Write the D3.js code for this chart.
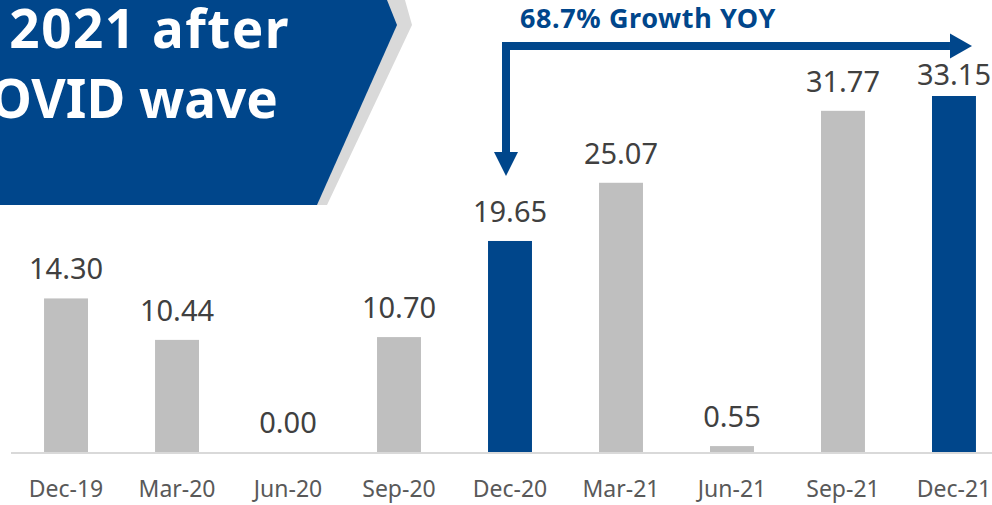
<!DOCTYPE html>
<html>
<head>
<meta charset="utf-8">
<script src="https://cdn.jsdelivr.net/npm/d3@7"></script>
<style>
  body { margin: 0; background: #fff; }
  svg { display: block; font-family: "Noto Sans", "Open Sans", sans-serif; }
</style>
</head>
<body>
<script>
// chart data
const categories = ['Dec-19', 'Mar-20', 'Jun-20', 'Sep-20', 'Dec-20', 'Mar-21', 'Jun-21', 'Sep-21', 'Dec-21'];
const values = [14.30, 10.44, 0.00, 10.70, 19.65, 25.07, 0.55, 31.77, 33.15];
const highlighted = ['Dec-20', 'Dec-21'];
const titleLines = ['2021 after', 'COVID wave'];
const growthLabel = '68.7% Growth YOY';

const width = 992, height = 505;
const baseY = 452;

const svg = d3.select('body').append('svg')
    .attr('width', width)
    .attr('height', height);

const x = d3.scaleBand()
    .domain(categories)
    .range([-23, 1043])
    .padding(0.604);

const y = d3.scaleLinear()
    .domain([0, d3.max(values)])
    .range([baseY, 96]);

const data = categories.map((c, i) => ({ cat: c, val: values[i] }));

// banner top-left
svg.append('polygon')
    .attr('points', '0,0 405,0 412,25 327,205 0,205')
    .attr('fill', '#d9d9d9');
svg.append('polygon')
    .attr('points', '0,0 387,0 397,25 317,205 0,205')
    .attr('fill', '#00468b');
svg.append('text')
    .attr('x', 290).attr('y', 48)
    .attr('text-anchor', 'end')
    .attr('fill', '#fff')
    .attr('font-weight', 700)
    .attr('font-size', 53)
    .attr('letter-spacing', 1.5)
    .text(titleLines[0]);
svg.append('text')
    .attr('x', 278).attr('y', 118)
    .attr('text-anchor', 'end')
    .attr('fill', '#fff')
    .attr('font-weight', 700)
    .attr('font-size', 53)
    .text(titleLines[1]);

// bars
svg.append('g').selectAll('rect')
    .data(data)
    .join('rect')
    .attr('x', d => x(d.cat))
    .attr('y', d => y(d.val))
    .attr('width', x.bandwidth())
    .attr('height', d => baseY - y(d.val))
    .attr('fill', d => highlighted.includes(d.cat) ? '#00468b' : '#bfbfbf');

// value labels
svg.append('g').selectAll('text')
    .data(data)
    .join('text')
    .attr('x', d => x(d.cat) + x.bandwidth() / 2)
    .attr('y', d => Math.max(y(d.val) - 19, 85))
    .attr('text-anchor', 'middle')
    .attr('font-size', 29)
    .attr('fill', '#404040')
    .text(d => d.val.toFixed(2));

// x axis
const xAxis = d3.axisBottom(x).tickSize(0).tickPadding(0);
const xAxisGroup = svg.append('g')
    .attr('transform', `translate(0, ${baseY})`)
    .call(xAxis);
xAxisGroup.select('.domain').remove();
xAxisGroup.selectAll('text')
    .attr('y', 45)
    .attr('dy', 0)
    .attr('font-size', 23)
    .attr('font-family', '"Noto Sans", "Open Sans", sans-serif')
    .attr('fill', '#595959');

svg.append('line')
    .attr('x1', 11).attr('x2', width)
    .attr('y1', baseY + 1).attr('y2', baseY + 1)
    .attr('stroke', '#d9d9d9')
    .attr('stroke-width', 2);

// growth arrow
const blue = '#00468b';
const ax = x('Dec-20') + x.bandwidth() / 2 - 4;
const aEnd = x('Dec-21') + x.bandwidth() / 2 + 18;
const lineY = 46;
svg.append('path')
    .attr('d', `M${ax},152 V${lineY} H${aEnd - 22}`)
    .attr('fill', 'none')
    .attr('stroke', blue)
    .attr('stroke-width', 8);
svg.append('path')
    .attr('d', `M${aEnd - 22},${lineY - 12.5} L${aEnd},${lineY} L${aEnd - 22},${lineY + 12.5} Z`)
    .attr('fill', blue);
svg.append('path')
    .attr('d', `M${ax - 12},152 L${ax + 12},152 L${ax},176 Z`)
    .attr('fill', blue);
svg.append('text')
    .attr('x', 520).attr('y', 28)
    .attr('fill', blue)
    .attr('font-weight', 700)
    .attr('font-size', 27)
    .attr('letter-spacing', 0.6)
    .text(growthLabel);
</script>
</body>
</html>
